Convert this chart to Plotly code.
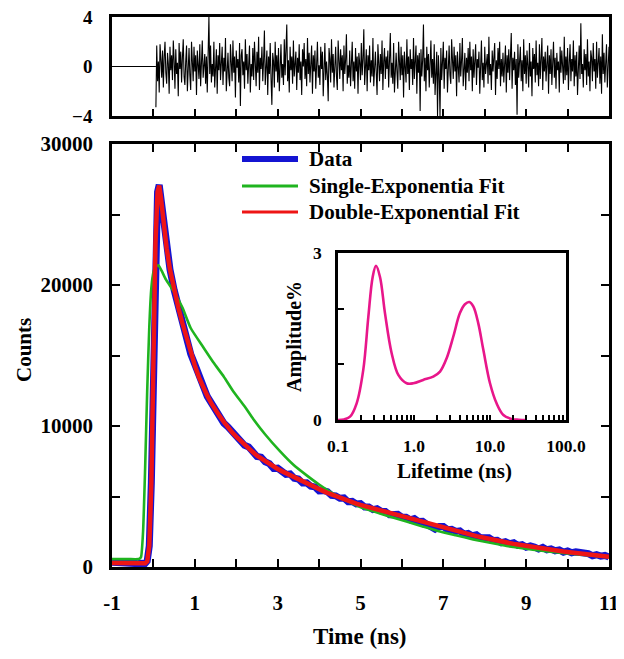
import plotly.graph_objects as go

# ---------------- data ----------------
# Main decay: time channels (ns)
t_data = [-1.0, -0.8, -0.6, -0.4, -0.3, -0.2, -0.15, -0.1, -0.05, 0.0, 0.05, 0.1, 0.14, 0.18,
          0.25, 0.32, 0.4, 0.5,
          0.6, 0.7, 0.8, 0.9, 1.0, 1.1, 1.2, 1.3, 1.4, 1.5,
          1.6, 1.7, 1.8, 1.9, 2.0, 2.1, 2.2, 2.3, 2.4, 2.5,
          2.6, 2.7, 2.8, 2.9, 3.0, 3.1, 3.2, 3.3, 3.4, 3.5,
          3.6, 3.7, 3.8, 3.9, 4.0, 4.1, 4.2, 4.3, 4.4, 4.5,
          4.6, 4.7, 4.8, 4.9, 5.0, 5.1, 5.2, 5.3, 5.4, 5.5,
          5.6, 5.7, 5.8, 5.9, 6.0, 6.1, 6.2, 6.3, 6.4, 6.5,
          6.6, 6.7, 6.8, 6.9, 7.0, 7.1, 7.2, 7.3, 7.4, 7.5,
          7.6, 7.7, 7.8, 7.9, 8.0, 8.1, 8.2, 8.3, 8.4, 8.5,
          8.6, 8.7, 8.8, 8.9, 9.0, 9.1, 9.2, 9.3, 9.4, 9.5,
          9.6, 9.7, 9.8, 9.9, 10.0, 10.1, 10.2, 10.3, 10.4, 10.5,
          10.6, 10.7, 10.8, 10.9, 11.0]

data_counts = [330, 260, 300, 240, 270, 250, 420, 1500, 6000, 15000, 23000, 26600, 27100, 26200,
               24300, 22600, 21100, 19650,
               18480, 17240, 16240, 15110, 14370, 13420, 12860, 12100, 11620, 11020,
               10760, 10200, 9930, 9640, 9210, 9000, 8630, 8520, 8130, 7840,
               7790, 7460, 7330, 6990, 7010, 6810, 6570, 6600, 6300, 6240,
               5960, 5970, 5730, 5680, 5400, 5410, 5340, 5080, 5050, 4880,
               4900, 4630, 4650, 4470, 4500, 4260, 4260, 4070, 4130, 3960,
               3940, 3710, 3760, 3730, 3530, 3530, 3350, 3440, 3220, 3240,
               3020, 2820, 2690, 2880, 2880, 2650, 2670, 2520, 2560, 2330,
               2380, 2220, 2280, 2070, 2080, 2070, 1880, 1900, 1720, 1800,
               1660, 1720, 1530, 1580, 1410, 1490, 1410, 1280, 1390, 1220,
               1280, 1150, 1210, 1050, 1140, 1010, 1070, 1050, 930, 950,
               800, 870, 770, 820, 700]

double_fit = [290, 280, 270, 260, 255, 260, 400, 1500, 6000, 15000, 23000, 26600, 27050, 26200,
              24300, 22600, 21100, 19600,
              18400, 17300, 16200, 15200, 14300, 13450, 12750, 12150, 11600, 11100,
              10700, 10300, 9900, 9550, 9250, 8950, 8700, 8400, 8150, 7900,
              7700, 7500, 7300, 7100, 6950, 6800, 6650, 6500, 6350, 6200,
              6050, 5900, 5750, 5620, 5500, 5380, 5260, 5140, 5030, 4920,
              4810, 4700, 4600, 4500, 4400, 4320, 4240, 4150, 4060, 3970,
              3880, 3800, 3720, 3650, 3580, 3500, 3420, 3340, 3260, 3180,
              3100, 3020, 2940, 2860, 2790, 2710, 2630, 2550, 2480, 2400,
              2330, 2260, 2190, 2130, 2060, 2000, 1930, 1860, 1800, 1740,
              1690, 1640, 1590, 1540, 1480, 1440, 1390, 1340, 1300, 1260,
              1220, 1180, 1140, 1100, 1070, 1040, 1010, 970, 930, 900,
              860, 830, 800, 760, 720]

t_single = [-1.0, -0.6, -0.35, -0.3, -0.25, -0.2, -0.15, -0.1, -0.05, 0.0, 0.05, 0.12, 0.2, 0.3,
            0.5, 0.7, 0.9, 1.2, 1.45, 1.7, 1.93, 2.2, 2.41, 2.7, 3.06, 3.38, 3.7, 4.0, 4.34,
            4.7, 4.99, 5.31, 5.7, 6.11, 6.5, 6.92, 7.3, 7.72, 8.1, 8.53, 9.0, 9.33, 9.7,
            10.14, 10.5, 11.0]
single_fit = [560, 560, 570, 700, 2500, 7000, 12500, 17000, 19800, 20900, 21300, 21400, 21000, 20400,
              19500, 18400, 16950, 15600, 14500, 13500, 12450, 11400, 10500, 9400, 8200, 7250, 6500,
              5850, 5200, 4650, 4260, 3950, 3580, 3220, 2880, 2520, 2250, 1960, 1740, 1500, 1300,
              1170, 1050, 920, 830, 700]

# Residuals (weighted): flat before the fit window, then channels from 0.06 ns, 0.02 ns apart
resid_flat_t = [-1.0, 0.06]
resid_flat = [0.0, 0.0]
resid_t0 = 0.06
resid_dt = 0.02
residuals = [
    -3.3, 1.7, -1.2, 0.4, -2.1, 1.8, 0.6, -0.9, 1.3, -1.7, 0.8, 2.0, -0.5, -1.4, 1.1, 0.2, -2.2, 1.6, -0.3, 0.9,
    -1.1, 2.1, 0.5, -1.8, 1.4, -0.6, 0.3, -2.4, 1.9, -0.2, 1.2, -1.3, 0.7, 2.2, -0.8, -1.5, 0.4, 1.7, -2.0, 0.6,
    1.5, -0.7, -1.9, 2.0, 0.1, -1.2, 1.6, -0.4, 0.9, -2.3, 1.3, 0.5, -1.0, 1.8, -1.6, 0.3, 2.1, -0.9, -0.2, 1.0,
    -1.4, 0.8, -2.1, 1.2, 4.0, -0.6, 1.7, -1.3, 0.2, -0.8, 2.0, -1.7, 0.6, 1.4, -2.2, 0.9, -0.3, 1.9, -1.1, 0.4,
    1.6, -1.5, 0.7, -0.4, 2.3, -2.0, 0.3, 1.1, -0.9, -1.6, 1.8, 0.2, -1.2, 2.1, -0.5, 0.8, -2.5, 1.3, -0.1, 0.6,
    -1.3, 1.9, -3.2, 0.9, 1.4, -0.7, 0.4, -1.8, 2.2, -0.3, 1.0, -1.4, 0.6, 1.7, -2.1, 0.2, -0.8, 1.5, -1.1, 2.0,
    0.3, -1.6, 1.2, -0.5, 2.4, -1.9, 0.7, -0.2, 1.6, -1.2, 0.5, 2.9, -1.5, 0.1, 1.3, -2.3, 0.8, -0.6, 1.9, -1.0,
    -3.1, 1.1, 0.4, -1.7, 2.0, -0.4, 0.9, -1.3, 1.5, -2.0, 0.6, 1.8, -0.9, 0.2, -1.5, 2.2, -0.7, 1.0, 3.4, -1.2,
    0.5, -2.1, 1.6, -0.3, 0.8, -1.4, 2.1, -0.8, 0.3, 1.2, -1.9, 0.7, -0.5, 1.8, -1.1, 0.4, -2.3, 1.4, 0.0, 1.9,
    -1.0, 0.6, -1.6, 2.3, -0.6, 1.1, -1.3, 0.2, 1.7, -2.2, 0.9, -0.4, 1.3, -1.8, 0.5, 2.0, -0.9, 0.1, -1.5, 1.6,
    -0.2, 1.2, -2.4, 0.8, 1.9, -1.1, 0.4, -0.7, -2.8, 1.5, 0.6, -1.3, 2.2, -0.5, 1.0, -1.7, 0.3, 1.6, -0.8, -1.9,
    2.1, 0.2, -1.0, 1.4, -0.3, 0.9, -2.0, 1.7, -0.6, 0.5, 2.6, -1.4, 0.1, -0.9, 1.3, -1.6, 0.7, 2.0, -1.2, 0.4,
    -1.8, 1.5, -0.4, 0.8, -2.2, 1.1, 0.3, -1.1, 1.9, -0.7, 0.6, 3.0, -1.5, 0.2, 1.4, -2.0, 0.9, -0.3, 1.7, -1.3,
    0.5, -0.8, 2.3, -1.6, 0.7, 1.2, -0.5, -2.3, 1.8, 0.0, -1.2, 1.0, -0.6, 2.1, -1.9, 0.4, 1.5, -1.0, 0.8, -0.2,
    1.3, -1.7, 0.6, 2.7, -0.9, 0.3, -1.4, 1.9, -2.1, 0.7, 1.1, -0.4, -1.8, 2.0, 0.2, -1.1, 1.6, -0.7, 0.9, -2.5,
    1.2, 0.1, -1.3, 2.2, -0.6, 0.8, -1.9, 1.4, -0.2, 0.6, -1.5, 2.3, -1.0, 0.4, 1.7, -2.2, 0.9, -0.5, 1.1, -3.6,
    1.4, -0.8, 0.5, 3.4, -1.2, 0.7, -2.0, 1.6, -0.3, 1.0, -1.7, 0.2, 2.1, -0.9, 0.6, -1.4, 1.8, -2.3, 0.3, 1.2,
    -4.0, 0.9, -0.6, -4.0, 1.5, -1.1, 0.4, 2.0, -1.8, 0.7, -0.2, 1.3, -2.1, 0.8, 1.7, -0.7, -1.4, 2.2, 0.1, -1.0,
    1.6, -0.4, 0.9, -2.4, 1.2, 0.3, -1.3, 1.9, -0.8, 0.5, 2.3, -1.6, 0.0, 1.1, -1.9, 0.7, -0.5, 1.5, -1.2, 2.0,
    -0.3, 0.8, -2.0, 1.4, -0.9, 0.4, 1.8, -1.5, 0.6, -0.1, 1.2, -2.2, 0.9, 2.1, -1.1, 0.3, -1.7, 1.6, -0.6, 0.7,
    1.0, -1.4, 2.4, -0.7, 0.2, -1.9, 1.3, -0.4, 0.8, 1.9, -2.3, 0.5, -1.0, 1.5, -0.2, 2.0, -1.6, 0.6, -0.8, 1.1,
    -1.3, 0.4, 1.7, -2.1, 0.9, -0.5, 1.4, -1.1, 0.3, 2.7, -1.8, 0.7, -0.3, 1.2, -1.5, 0.6, -3.9, 1.8, -0.9, 0.2,
    1.6, -1.2, 0.5, -2.0, 2.2, -0.6, 0.9, -1.4, 1.3, 0.1, -1.7, 1.9, -0.8, 0.4, -2.4, 1.5, -0.2, 1.0, -1.3, 2.1,
    -0.7, 0.3, -1.6, 1.8, -1.0, 0.6, 2.3, -1.9, 0.8, -0.4, 1.2, -1.2, 0.2, 1.7, -2.2, 0.9, -0.6, 1.4, -1.5, 0.5,
    2.0, -0.9, 0.7, -1.8, 1.1, -0.3, 0.4, -2.1, 1.6, -0.5, 1.3, 0.0, -1.4, 2.4, -1.1, 0.8, -0.7, 1.5, -1.9, 0.3,
    1.8, -1.2, 0.6, -0.4, 2.1, -1.6, 0.9, -0.8, 1.2, -2.3, 0.5, 1.7, -1.0, 3.5, -0.6, 0.2, -1.7, 1.4, -0.3, 1.0,
    -1.5, 2.2, -0.8, 0.4, -2.0, 1.3, 0.7, -1.2, 1.9, -0.4, 0.6, -1.8, 2.0, -0.9, 0.3, 1.5, -1.4, 0.8, -2.2, 2.6,
    -0.6, 1.1, -1.3, 0.7, 1.8, -1.7, 0.4, 1.6]

# Inset: lifetime distribution
lifetime_ns = [0.10, 0.12, 0.144, 0.176, 0.215, 0.251, 0.286, 0.316, 0.357, 0.415, 0.508, 0.622,
               0.80, 0.98, 1.32, 1.79, 2.2, 2.69, 3.29, 4.02, 4.68, 5.34, 6.03, 7.0, 8.17, 10.0,
               12.2, 15.0, 19.1, 24.0, 30.0]
amplitude = [0.0, 0.01, 0.06, 0.3, 0.9, 1.86, 2.57, 2.77, 2.57, 1.92, 1.2, 0.81,
             0.66, 0.66, 0.72, 0.78, 0.87, 1.11, 1.50, 1.92, 2.08, 2.12, 2.04, 1.74, 1.26, 0.66,
             0.3, 0.09, 0.02, 0.005, 0.0]

time_ticks = [-1, 0, 1, 2, 3, 4, 5, 6, 7, 8, 9, 10, 11]
time_labels = ["-1", "", "1", "", "3", "", "5", "", "7", "", "9", "", "11"]
count_ticks = [0, 5000, 10000, 15000, 20000, 25000, 30000]
count_labels = ["0", "", "10000", "", "20000", "", "30000"]
resid_ticks = [-4, 0, 4]
life_ticks = [0.1, 0.2, 0.3, 0.4, 0.5, 0.6, 0.7, 0.8, 0.9, 1, 2, 3, 4, 5, 6, 7, 8, 9, 10,
              20, 30, 40, 50, 60, 70, 80, 90, 100]
life_labels = ["0.1"] + [""] * 8 + ["1.0"] + [""] * 8 + ["10.0"] + [""] * 8 + ["100.0"]
amp_ticks = [0, 1, 2, 3]
amp_labels = ["0", "", "", "3"]

legend_names = ["Data", "Single-Exponentia Fit", "Double-Exponential Fit"]

# ---------------- figure ----------------
W, H = 624, 659
OFF = 8  # page body margin shifts the canvas by this many pixels
FONT = "Liberation Serif"
BLUE, GREEN, RED, PINK = "#1414d2", "#1fb41f", "#ee1515", "#e8168a"


def px(x):
    return (x - OFF) / W


def py(y):
    return 1 - (y - OFF) / H


fig = go.Figure()

fig.add_trace(go.Scatter(x=resid_flat_t, y=resid_flat, mode="lines",
                         line=dict(color="black", width=1.2), xaxis="x2", yaxis="y2"))
fig.add_trace(go.Scatter(y=residuals, x0=resid_t0, dx=resid_dt, mode="lines",
                         line=dict(color="black", width=1.1), xaxis="x2", yaxis="y2"))

fig.add_trace(go.Scatter(x=t_data, y=data_counts, mode="lines", name=legend_names[0],
                         line=dict(color=BLUE, width=7)))
fig.add_trace(go.Scatter(x=t_single, y=single_fit, mode="lines", name=legend_names[1],
                         line=dict(color=GREEN, width=2.6, shape="spline", smoothing=0.5)))
fig.add_trace(go.Scatter(x=t_data, y=double_fit, mode="lines", name=legend_names[2],
                         line=dict(color=RED, width=4.5)))

fig.add_trace(go.Scatter(x=lifetime_ns, y=amplitude, mode="lines",
                         line=dict(color=PINK, width=2.6, shape="spline", smoothing=1.0),
                         xaxis="x3", yaxis="y3"))

tick_font = dict(family=FONT, size=21, color="black", weight="bold")
resid_font = dict(family=FONT, size=19, color="black", weight="bold")
small_font = dict(family=FONT, size=17.5, color="black", weight="bold")

axis_common = dict(showline=True, linecolor="black", linewidth=2.5, showgrid=False,
                   zeroline=False, tickcolor="black", tickwidth=2, automargin=False,
                   ticklabeloverflow="allow")

fig.update_layout(
    width=W, height=H,
    margin=dict(l=0, r=0, t=0, b=0, autoexpand=False),
    paper_bgcolor="white", plot_bgcolor="white",
    showlegend=False,
    xaxis=dict(domain=[px(112), px(609)], anchor="y", range=[-1, 11],
               tickmode="array", tickvals=time_ticks, ticktext=time_labels,
               ticks="inside", ticklen=8, mirror="allticks", tickfont=tick_font,
               ticklabelstandoff=15, **axis_common),
    yaxis=dict(domain=[py(567), py(144)], anchor="x", range=[0, 30000],
               tickmode="array", tickvals=count_ticks, ticktext=count_labels,
               ticks="inside", ticklen=8, mirror="allticks", tickfont=tick_font,
               ticklabelstandoff=12, **axis_common),
    xaxis2=dict(domain=[px(112), px(609)], anchor="y2", range=[-1, 11],
                tickmode="array", tickvals=time_ticks, showticklabels=False,
                ticks="inside", ticklen=7, mirror=True, **axis_common),
    yaxis2=dict(domain=[py(116), py(17)], anchor="x2", range=[-4, 4],
                tickmode="array", tickvals=resid_ticks, ticks="", mirror=True,
                tickfont=resid_font, ticklabelstandoff=13, **axis_common),
    xaxis3=dict(domain=[px(338), px(566)], anchor="y3", type="log", range=[-1, 2],
                tickmode="array", tickvals=life_ticks, ticktext=life_labels,
                ticks="inside", ticklen=5, mirror=True, tickfont=small_font,
                ticklabelstandoff=8, **axis_common),
    yaxis3=dict(domain=[py(420), py(253)], anchor="x3", range=[0, 3],
                tickmode="array", tickvals=amp_ticks, ticktext=amp_labels,
                ticks="inside", ticklen=6, mirror=True, tickfont=small_font,
                ticklabelstandoff=10, **axis_common),
)

annotations = [
    dict(text="Time (ns)", x=px(360), y=py(636),
         font=dict(family=FONT, size=23, color="black", weight="bold")),
    dict(text="Counts", x=px(24), y=py(350), textangle=-90,
         font=dict(family=FONT, size=21, color="black", weight="bold")),
    dict(text="Lifetime (ns)", x=px(454), y=py(471),
         font=dict(family=FONT, size=21, color="black", weight="bold")),
    dict(text="Amplitude%", x=px(294), y=py(337), textangle=-90,
         font=dict(family=FONT, size=20, color="black", weight="bold")),
]
for a in annotations:
    a.update(xref="paper", yref="paper", xanchor="center", yanchor="middle", showarrow=False)

shapes = []
legend_rows = [(159, BLUE, 6), (186, GREEN, 3), (212, RED, 3)]
for name, (yy, col, lw) in zip(legend_names, legend_rows):
    shapes.append(dict(type="line", xref="paper", yref="paper", x0=px(242), x1=px(298),
                       y0=py(yy), y1=py(yy), line=dict(color=col, width=lw)))
    annotations.append(dict(text=name, x=px(307), y=py(yy), xref="paper", yref="paper",
                            xanchor="left", yanchor="middle", showarrow=False,
                            font=dict(family=FONT, size=21, color="black", weight="bold")))

fig.update_layout(annotations=annotations, shapes=shapes)

fig.write_html("out.html")
